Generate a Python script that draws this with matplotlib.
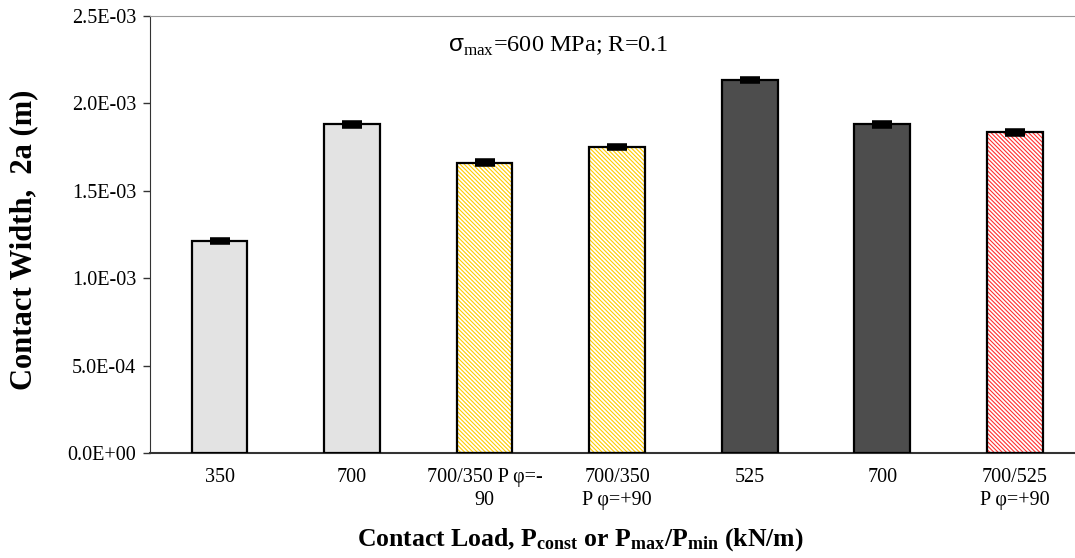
import numpy as np
from matplotlib import pyplot as plt

categories = ["350", "700", "700/350 P \u03c6=-\n90", "700/350\nP \u03c6=+90",
              "525", "700", "700/525\nP \u03c6=+90"]
widths = [1.213e-3, 1.880e-3, 1.661e-3, 1.751e-3, 2.134e-3, 1.880e-3, 1.835e-3]
errors = [8e-6, 8e-6, 8e-6, 8e-6, 8e-6, 8e-6, 8e-6]
yticks = [0.0, 5e-4, 1e-3, 1.5e-3, 2e-3, 2.5e-3]
ytick_labels = ["0.0E+00", "5.0E-04", "1.0E-03", "1.5E-03", "2.0E-03", "2.5E-03"]

faces = ['#e3e3e3', '#e3e3e3', 'white', 'white', '#4d4d4d', '#4d4d4d', 'white']
hatch_colors = [None, None, '#ffcc00', '#ffcc00', None, None, '#ff3030']

plt.rcParams['font.family'] = ['Liberation Serif', 'DejaVu Sans']
plt.rcParams['mathtext.fontset'] = 'custom'
plt.rcParams['mathtext.rm'] = 'Liberation Serif'
plt.rcParams['mathtext.bf'] = 'Liberation Serif:bold'
plt.rcParams['mathtext.sf'] = 'Liberation Sans'
plt.rcParams['hatch.linewidth'] = 0.8

fig = plt.figure(figsize=(10.75, 5.58), dpi=100)
ax = fig.add_axes([150 / 1075, 105 / 558, 931 / 1075, 437 / 558])

x = np.arange(len(categories))
bw = 0.42
for i in x:
    if hatch_colors[i]:
        ax.bar(i, widths[i], bw, color='white', edgecolor=hatch_colors[i],
               hatch='\\\\\\\\\\\\\\\\', linewidth=0, zorder=2)
        ax.bar(i, widths[i], bw, fill=False, edgecolor='black', linewidth=1.6, zorder=3)
    else:
        ax.bar(i, widths[i], bw, color=faces[i], edgecolor='black', linewidth=1.6, zorder=3)

ax.errorbar(x, widths, yerr=errors, fmt='none', ecolor='black', elinewidth=3,
            capsize=7, capthick=4, zorder=4)

ax.set_xlim(-0.525, 6.5)
ax.set_ylim(0, 2.5e-3)
ax.set_xticks(x)
ax.set_xticklabels(categories, fontsize=14.5, linespacing=1.3)
ax.tick_params(axis='x', length=0, pad=11)
ax.set_yticks(yticks)
ax.set_yticklabels(ytick_labels, fontsize=14.5)
ax.tick_params(axis='y', length=5, width=1, direction='out', pad=5, color='#333333')

ax.spines['right'].set_visible(False)
ax.spines['top'].set_color('#999999')
ax.spines['bottom'].set_color('#333333')
ax.spines['left'].set_color('#333333')
ax.spines['bottom'].set_linewidth(1.5)

ax.set_ylabel("Contact Width,  2a (m)", fontsize=22, fontweight='bold')
ax.yaxis.label.set_va('center')
ax.yaxis.set_label_coords((24 - 150) / 931, (453 - 240) / 437)
ax.set_xlabel(r"Contact Load, $\mathbf{P_{const}}$ or $\mathbf{P_{max}/P_{min}}$ (kN/m)",
              fontsize=18.5, fontweight='bold')
ax.xaxis.label.set_va('center')
ax.xaxis.set_label_coords((580 - 150) / 931, (453 - 540) / 437)

ax.text((448 - 150) / 931, 0.93, r"$\mathsf{\sigma}_{\mathrm{max}}$=600 MPa; R=0.1",
        transform=ax.transAxes, fontsize=17.5, va='center', ha='left')

fig.savefig('out.png', dpi=100)
